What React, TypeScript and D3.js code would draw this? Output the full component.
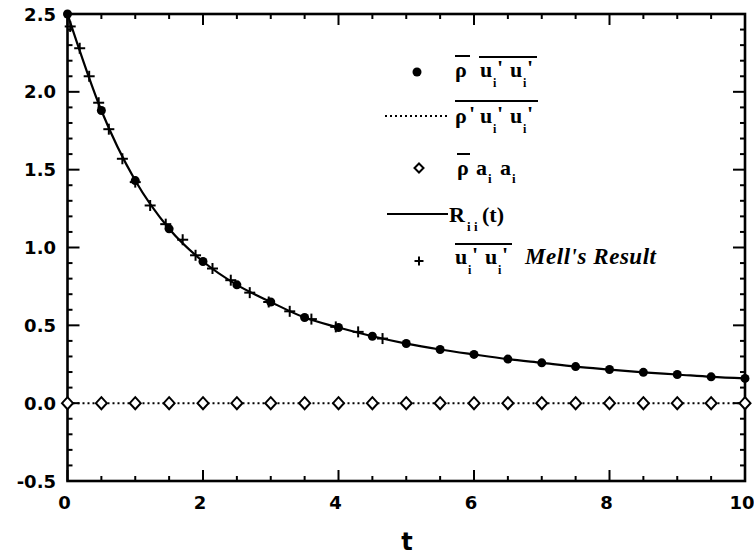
import React from "react";
import * as d3 from "d3";

// ---- data ----
const dotT = [0, 0.5, 1, 1.5, 2, 2.5, 3, 3.5, 4, 4.5, 5, 5.5, 6, 6.5, 7, 7.5, 8, 8.5, 9, 9.5, 10];
const rhoUUValues = [2.5, 1.88, 1.43, 1.12, 0.91, 0.76, 0.65, 0.55, 0.486, 0.43, 0.383, 0.345, 0.313, 0.283, 0.259, 0.235, 0.216, 0.198, 0.184, 0.169, 0.159];
const rValues = [2.5, 1.88, 1.43, 1.12, 0.91, 0.76, 0.65, 0.55, 0.486, 0.43, 0.383, 0.345, 0.313, 0.283, 0.259, 0.235, 0.216, 0.198, 0.184, 0.169, 0.159];
const rhoPrimeValues = [0, 0, 0, 0, 0, 0, 0, 0, 0, 0, 0, 0, 0, 0, 0, 0, 0, 0, 0, 0, 0];
const aaValues = [0, 0, 0, 0, 0, 0, 0, 0, 0, 0, 0, 0, 0, 0, 0, 0, 0, 0, 0, 0, 0];
const mellT = [0.04, 0.18, 0.32, 0.46, 0.61, 0.81, 1.0, 1.22, 1.45, 1.7, 1.89, 2.14, 2.41, 2.69, 2.97, 3.28, 3.6, 3.96, 4.29, 4.65];
const mellValues = [2.42, 2.28, 2.1, 1.93, 1.76, 1.57, 1.42, 1.27, 1.15, 1.05, 0.95, 0.865, 0.79, 0.71, 0.65, 0.59, 0.54, 0.49, 0.458, 0.415];

const xTickLabels = ["0", "2", "4", "6", "8", "10"];
const xTickValues = [0, 2, 4, 6, 8, 10];
const yTickLabels = ["-0.5", "0.0", "0.5", "1.0", "1.5", "2.0", "2.5"];
const yTickValues = [-0.5, 0, 0.5, 1.0, 1.5, 2.0, 2.5];
const xTitle = "t";

const W = 754;
const H = 555;
const L = 67.5, R = 745, T = 14, B = 481;

export default function App() {
  const x = d3.scaleLinear().domain([0, 10]).range([L, R]);
  const y = d3.scaleLinear().domain([-0.5, 2.5]).range([B, T]);

  const xMinor = d3.range(0, 10.001, 0.5);
  const yMinor = d3.range(-0.5, 2.5001, 0.1);
  const isMajorX = (v: number) => Math.abs(v / 2 - Math.round(v / 2)) < 1e-6;
  const isMajorY = (v: number) => Math.abs(v / 0.5 - Math.round(v / 0.5)) < 1e-6;

  const line = d3
    .line<number>()
    .x((_, i) => x(dotT[i]))
    .y((d) => y(d))
    .curve(d3.curveMonotoneX);

  const rPath = line(rValues) || "";
  const zeroPath = line(rhoPrimeValues) || "";

  const tickFont = { fontFamily: "DejaVu Sans", fontWeight: 700, fontSize: 18 } as const;
  const serif = { fontFamily: "Liberation Serif", fontWeight: 700, fontSize: 22 } as const;

  const plus = (cx: number, cy: number, s: number, key: string) => (
    <g key={key}>
      <line x1={cx - s} x2={cx + s} y1={cy} y2={cy} stroke="#000" strokeWidth={2} />
      <line x1={cx} x2={cx} y1={cy - s} y2={cy + s} stroke="#000" strokeWidth={2} />
    </g>
  );
  const diamond = (cx: number, cy: number, w: number, h: number, key: string) => (
    <path
      key={key}
      d={`M${cx},${cy - h}L${cx + w},${cy}L${cx},${cy + h}L${cx - w},${cy}Z`}
      fill="#fff"
      stroke="#000"
      strokeWidth={2}
    />
  );

  return (
    <svg
      width={W}
      height={H}
      style={{ position: "absolute", left: 0, top: 0, background: "#fff" }}
    >
      <rect x={0} y={0} width={W} height={H} fill="#fff" />

      {/* ticks */}
      {xMinor.map((v, i) => {
        const len = isMajorX(v) ? 11 : 5;
        return (
          <g key={"xt" + i}>
            <line x1={x(v)} x2={x(v)} y1={B} y2={B - len} stroke="#000" strokeWidth={2} />
            <line x1={x(v)} x2={x(v)} y1={T} y2={T + len} stroke="#000" strokeWidth={2} />
          </g>
        );
      })}
      {yMinor.map((v, i) => {
        const len = isMajorY(v) ? 12 : 5;
        return (
          <g key={"yt" + i}>
            <line x1={L} x2={L + len} y1={y(v)} y2={y(v)} stroke="#000" strokeWidth={2} />
            <line x1={R} x2={R - len} y1={y(v)} y2={y(v)} stroke="#000" strokeWidth={2} />
          </g>
        );
      })}

      {/* frame */}
      <rect x={L} y={T} width={R - L} height={B - T} fill="none" stroke="#000" strokeWidth={2.6} />

      {/* tick labels */}
      {xTickValues.map((v, i) => (
        <text key={"xl" + i} x={x(v) - 3} y={508.5} textAnchor="middle" {...tickFont}>
          {xTickLabels[i]}
        </text>
      ))}
      {yTickValues.map((v, i) => (
        <text key={"yl" + i} x={56} y={y(v) + 6.5} textAnchor="end" {...tickFont}>
          {yTickLabels[i]}
        </text>
      ))}
      <text x={407} y={550} textAnchor="middle" fontFamily="DejaVu Sans" fontWeight={700} fontSize={24}>
        {xTitle}
      </text>

      {/* series */}
      <path d={zeroPath} fill="none" stroke="#000" strokeWidth={2} strokeDasharray="2,3" />
      <path d={rPath} fill="none" stroke="#000" strokeWidth={2.2} />
      {aaValues.map((v, i) => diamond(x(dotT[i]), y(v), 5.5, 6, "dm" + i))}
      {rhoUUValues.map((v, i) => (
        <circle key={"dt" + i} cx={x(dotT[i])} cy={y(v)} r={4.5} fill="#000" />
      ))}
      {mellValues.map((v, i) => plus(x(mellT[i]), y(v), 5.5, "pl" + i))}

      {/* legend */}
      <g>
        {/* row 1 */}
        <circle cx={417} cy={72} r={4.5} fill="#000" />
        <line x1={455} x2={470} y1={56} y2={56} stroke="#000" strokeWidth={2} />
        <line x1={479} x2={537} y1={57} y2={57} stroke="#000" strokeWidth={2} />
        <text {...serif}>
          <tspan x={455} y={77}>ρ</tspan>
          <tspan x={480} y={77}>u</tspan>
          <tspan x={493} y={87} fontSize={12}>i</tspan>
          <tspan x={497} y={75}>'</tspan>
          <tspan x={510} y={77}>u</tspan>
          <tspan x={523} y={87} fontSize={12}>i</tspan>
          <tspan x={527} y={75}>'</tspan>
        </text>

        {/* row 2 */}
        <line x1={385} x2={448} y1={116} y2={116} stroke="#000" strokeWidth={2} strokeDasharray="2,3" />
        <line x1={455} x2={538} y1={101} y2={101} stroke="#000" strokeWidth={2} />
        <text {...serif}>
          <tspan x={455} y={123}>ρ</tspan>
          <tspan x={469} y={121}>'</tspan>
          <tspan x={480} y={123}>u</tspan>
          <tspan x={493} y={133} fontSize={12}>i</tspan>
          <tspan x={497} y={121}>'</tspan>
          <tspan x={510} y={123}>u</tspan>
          <tspan x={523} y={133} fontSize={12}>i</tspan>
          <tspan x={527} y={121}>'</tspan>
        </text>

        {/* row 3 */}
        {diamond(419, 168, 4.5, 4.5, "legdm")}
        <line x1={457} x2={470} y1={154} y2={154} stroke="#000" strokeWidth={2} />
        <text {...serif}>
          <tspan x={457} y={175}>ρ</tspan>
          <tspan x={476} y={175}>a</tspan>
          <tspan x={488} y={183} fontSize={13}>i</tspan>
          <tspan x={500} y={175}>a</tspan>
          <tspan x={512} y={183} fontSize={13}>i</tspan>
        </text>

        {/* row 4 */}
        <line x1={387} x2={448} y1={214} y2={214} stroke="#000" strokeWidth={2} />
        <text {...serif}>
          <tspan x={449} y={222}>R</tspan>
          <tspan x={467} y={231} fontSize={13}>i</tspan>
          <tspan x={474} y={231} fontSize={13}>i</tspan>
          <tspan x={482} y={222}>(t)</tspan>
        </text>

        {/* row 5 */}
        {plus(419, 261, 4.5, "legpl")}
        <line x1={455} x2={512} y1={244} y2={244} stroke="#000" strokeWidth={2} />
        <text {...serif}>
          <tspan x={455} y={264}>u</tspan>
          <tspan x={468} y={274} fontSize={12}>i</tspan>
          <tspan x={472} y={262}>'</tspan>
          <tspan x={485} y={264}>u</tspan>
          <tspan x={498} y={274} fontSize={12}>i</tspan>
          <tspan x={502} y={262}>'</tspan>
        </text>
        <text x={525} y={264} {...serif} fontSize={23} fontStyle="italic" textLength={131} lengthAdjust="spacing">
          Mell's Result
        </text>
      </g>
    </svg>
  );
}
